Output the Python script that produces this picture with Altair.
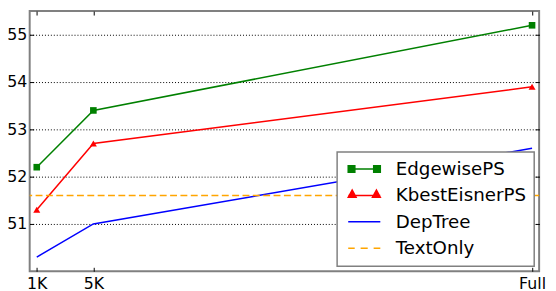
import altair as alt
import pandas as pd

# ---- data ----
series_names = ["EdgewisePS", "KbestEisnerPS", "DepTree", "TextOnly"]
series_colors = ["#008000", "#ff0000", "#0000ff", "#ffa500"]
x_values = [1, 5, 36]
x_labels = ["1K", "5K", "Full"]
edgewise = [52.2, 53.4, 55.2]
kbest = [51.3, 52.7, 53.9]
deptree = [50.3, 51.0, 52.6]
textonly = [51.6]
y_ticks = [51, 52, 53, 54, 55]

rows = []
for name, vals in zip(series_names[:3], [edgewise, kbest, deptree]):
    for xv, yv in zip(x_values, vals):
        rows.append({"series": name, "x": xv, "y": yv})
df = pd.DataFrame(rows)
df_text = pd.DataFrame({"series": ["TextOnly"], "y": textonly})

W, H = 517, 264
FONT = "DejaVu Sans"

label_expr = " : ".join(
    f"datum.value == {v} ? '{l}'" for v, l in zip(x_values[:-1], x_labels[:-1])
) + f" : '{x_labels[-1]}'"

xs = alt.Scale(domain=[0.5, 36.5], nice=False, zero=False)
ys = alt.Scale(domain=[50, 55.5], nice=False, zero=False)
# full scale (legend) and a lines-only scale (different domain so legends don't merge)
cs = alt.Scale(domain=series_names, range=series_colors)
cs_lines = alt.Scale(domain=series_names[:3], range=series_colors[:3])

# legend symbols (line + markers), unit r = sqrt(size)/2
legend_paths = [
    "M-1,0H4.43M-1,-0.56H0.12V0.56H-1ZM3.31,-0.56H4.43V0.56H3.31Z",
    "M-1,0H4.43M-1,0.33L-0.33,-0.9L0.33,0.33ZM3.1,0.33L3.77,-0.9L4.43,0.33Z",
    "M-1,0H4.43",
    "M-1,0H0.1M1.1,0H2.3M3.3,0H4.43",
]

lines = alt.Chart(df).mark_line(strokeWidth=1.5).encode(
    x=alt.X("x:Q", scale=xs, axis=alt.Axis(
        orient="bottom", values=x_values, labelExpr=label_expr, ticks=False,
        domain=False, grid=False, labelFontSize=16, labelPadding=4, title=None,
        labelFlush=False, labelColor="black", labelFont=FONT)),
    y=alt.Y("y:Q", scale=ys, axis=alt.Axis(
        orient="left", values=y_ticks, ticks=False, domain=False, grid=True,
        gridDash=[1, 2], gridColor="black", gridWidth=1, gridOpacity=1,
        labelFontSize=16, labelPadding=3, title=None, labelColor="black",
        labelFont=FONT)),
    color=alt.Color("series:N", scale=cs_lines, legend=None),
)

rule = alt.Chart(df_text).mark_rule(
    strokeWidth=1.5, strokeDash=[7, 3.5], color=series_colors[3]
).encode(
    y=alt.Y("y:Q", scale=ys, axis=None),
)

squares = alt.Chart(df).transform_filter(
    alt.datum.series == series_names[0]
).mark_point(shape="square", filled=True, size=45, opacity=1, color=series_colors[0]).encode(
    x=alt.X("x:Q", scale=xs, axis=alt.Axis(
        orient="top", offset=-H, labels=False, ticks=True, tickSize=4,
        tickColor="black", domain=False, grid=False, values=x_values, title=None)),
    y=alt.Y("y:Q", scale=ys, axis=alt.Axis(
        orient="right", offset=-W, labels=False, ticks=True, tickSize=4,
        tickColor="black", domain=False, grid=False, values=y_ticks, title=None)),
)

triangles = alt.Chart(df).transform_filter(
    alt.datum.series == series_names[1]
).mark_point(shape="triangle-up", filled=True, size=50, opacity=1, color=series_colors[1]).encode(
    x=alt.X("x:Q", scale=xs, axis=None),
    y=alt.Y("y:Q", scale=ys, axis=None),
)

def make_leg():
    return alt.Legend(
        title=None, orient="none", legendX=312, legendY=143, padding=8,
        rowPadding=7.8, symbolSize=144, symbolStrokeWidth=1.5, symbolOpacity=1,
        labelFontSize=18.5, labelFont=FONT, labelColor="black", labelOffset=33,
        fillColor="white", strokeColor="#808080",
    )

legend_layer = alt.Chart(df).mark_point(filled=True, opacity=0).encode(
    x=alt.X("x:Q", scale=xs, axis=alt.Axis(
        orient="bottom", offset=-H, labels=False, ticks=True, tickSize=4,
        tickColor="black", domain=False, grid=False, values=x_values, title=None)),
    y=alt.Y("y:Q", scale=ys, axis=alt.Axis(
        orient="left", offset=-W, labels=False, ticks=True, tickSize=4,
        tickColor="black", domain=False, grid=False, values=y_ticks, title=None)),
    fill=alt.Fill("series:N", scale=cs, legend=make_leg()),
    stroke=alt.Stroke("series:N", scale=cs, legend=make_leg()),
    shape=alt.Shape("series:N", scale=alt.Scale(domain=series_names, range=legend_paths), legend=make_leg()),
)

chart = alt.layer(lines, rule, squares, triangles, legend_layer).resolve_axis(
    x="independent", y="independent"
).properties(
    width=W, height=H,
    autosize=alt.AutoSizeParams(type="none"),
    padding={"left": 22, "top": 1, "right": 9, "bottom": 26},
).configure(font=FONT).configure_view(
    stroke="#808080", strokeWidth=2
).configure_legend(strokeWidth=1.5)

chart.save("out.html", embed_options={"renderer": "svg", "actions": False})
